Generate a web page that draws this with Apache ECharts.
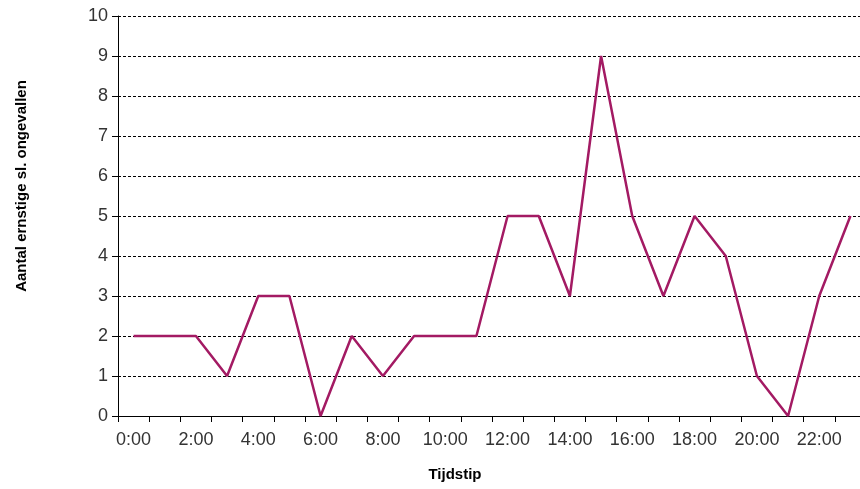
<!DOCTYPE html>
<html>
<head>
<meta charset="utf-8">
<script src="https://cdn.jsdelivr.net/npm/echarts@6/dist/echarts.min.js"></script>
<style>
  html, body { margin: 0; padding: 0; background: #fff; }
  #chart { width: 860px; height: 489px; }
</style>
</head>
<body>
<div id="chart"></div>
<script>
// Hourly categories 0:00 .. 23:00
const hours = ['0:00','1:00','2:00','3:00','4:00','5:00','6:00','7:00','8:00','9:00','10:00','11:00',
               '12:00','13:00','14:00','15:00','16:00','17:00','18:00','19:00','20:00','21:00','22:00','23:00'];
// Number of serious accidents per hour
const accidents = [2, 2, 2, 1, 3, 3, 0, 2, 1, 2, 2, 2, 5, 5, 3, 9, 5, 3, 5, 4, 1, 0, 3, 5];
const yTicks = [0, 1, 2, 3, 4, 5, 6, 7, 8, 9, 10];

const chart = echarts.init(document.getElementById('chart'));
chart.setOption({
  animation: false,
  grid: { left: 118, width: 748, top: 16, height: 400, containLabel: false, outerBoundsMode: 'none' },
  xAxis: {
    type: 'category',
    data: hours,
    boundaryGap: true,
    axisLine: { lineStyle: { color: '#000', width: 1 } },
    axisTick: { show: true, length: 6, interval: 0, lineStyle: { color: '#000' } },
    axisLabel: { interval: 1, color: '#333', fontSize: 18, fontFamily: 'Liberation Sans, Arial', margin: 15 },
    splitLine: { show: false }
  },
  yAxis: {
    type: 'value',
    min: yTicks[0],
    max: yTicks[yTicks.length - 1],
    interval: 1,
    axisLine: { show: true, lineStyle: { color: '#000', width: 1 } },
    axisTick: { show: true, length: 6, lineStyle: { color: '#000' } },
    axisLabel: { color: '#333', fontSize: 18, fontFamily: 'Liberation Sans, Arial', margin: 10 },
    splitLine: { show: true, lineStyle: { color: '#000', type: [3, 2], width: 1 } }
  },
  graphic: [
    {
      type: 'text',
      x: 455, y: 475,
      style: { text: 'Tijdstip', font: 'bold 15px Liberation Sans, Arial', fill: '#000',
               align: 'center', verticalAlign: 'middle' }
    },
    {
      type: 'text',
      x: 22, y: 186,
      rotation: Math.PI / 2,
      style: { text: 'Aantal ernstige sl. ongevallen', font: 'bold 15px Liberation Sans, Arial', fill: '#000',
               align: 'center', verticalAlign: 'middle' }
    }
  ],
  series: [{
    type: 'line',
    data: accidents,
    symbol: 'none',
    lineStyle: { color: '#a31a63', width: 2.5 },
    itemStyle: { color: '#a31a63' }
  }]
});
</script>
</body>
</html>
